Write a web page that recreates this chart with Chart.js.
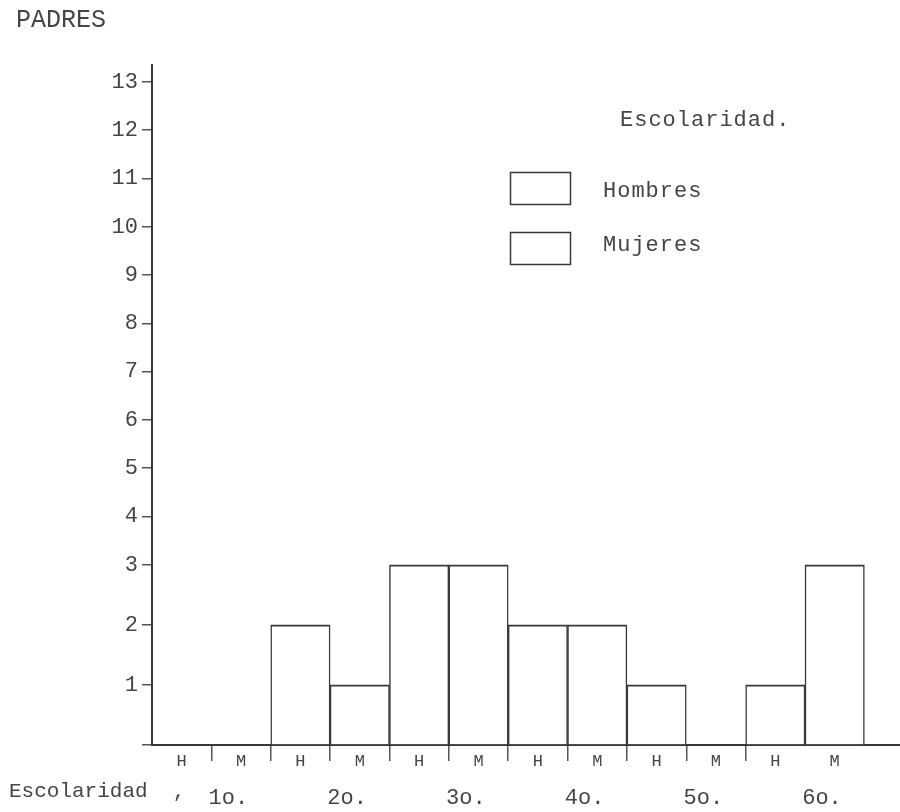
<!DOCTYPE html>
<html>
<head>
<meta charset="utf-8">
<script src="https://cdn.jsdelivr.net/npm/chart.js@4.4.1/dist/chart.umd.min.js"></script>
<style>
  html, body { margin: 0; padding: 0; background: #ffffff; }
  #wrap { width: 900px; height: 812px; position: relative; }
</style>
</head>
<body>
<div id="wrap"><canvas id="c"></canvas></div>
<script>
// ---- data ----
const grades = ['1o.', '2o.', '3o.', '4o.', '5o.', '6o.'];
const sexLabels = ['H', 'M'];
const hombres = [0, 2, 3, 2, 1, 1];
const mujeres = [0, 1, 3, 2, 0, 3];
const yTicks = [1, 2, 3, 4, 5, 6, 7, 8, 9, 10, 11, 12, 13];
const seriesNames = ['Hombres', 'Mujeres'];
const yTitle = 'PADRES';
const xTitle = 'Escolaridad  ,';
const legendTitle = 'Escolaridad.';

// ---- a linear scale whose lower part (0..break) is drawn with a larger unit, as in the hand-made original ----
class BrokenLinearScale extends Chart.LinearScale {
  _dec(v) {
    const b = this.options.breakValue, s = this.options.breakShare;
    if (v <= b) return (v - this.min) / (b - this.min) * s;
    return s + (v - b) / (this.max - b) * (1 - s);
  }
  getPixelForValue(value) {
    if (value === null || value === undefined || isNaN(value)) return NaN;
    return this.getPixelForDecimal(this._dec(value));
  }
  getValueForPixel(pixel) {
    const d = this.getDecimalForPixel(pixel);
    const b = this.options.breakValue, s = this.options.breakShare;
    if (d <= s) return this.min + d / s * (b - this.min);
    return b + (d - s) / (1 - s) * (this.max - b);
  }
}
BrokenLinearScale.id = 'brokenLinear';
BrokenLinearScale.defaults = Chart.LinearScale.defaults;
Chart.register(BrokenLinearScale);

const FONT = "'Liberation Mono', 'Courier New', monospace";
const INK = '#454545';
const LINE = '#383838';

const slotLabels = grades.flatMap(() => sexLabels);

const extraText = {
  id: 'extraText',
  afterDraw(chart) {
    const ctx = chart.ctx;
    ctx.save();
    ctx.fillStyle = INK;
    ctx.strokeStyle = LINE;
    ctx.textBaseline = 'middle';
    ctx.textAlign = 'left';
    // legend
    ctx.font = '22px ' + FONT;
    try { ctx.letterSpacing = '1px'; } catch (e) {}
    ctx.fillText(legendTitle, 620, 120);
    ctx.lineWidth = 1.5;
    const boxes = [172, 232];
    chart.data.datasets.forEach((ds, i) => {
      ctx.strokeRect(510.5, boxes[i] + 0.5, 60, 32);
      ctx.fillText(ds.label, 603, boxes[i] + (i === 0 ? 19 : 13));
    });
    // x-axis title at the left
    try { ctx.letterSpacing = '0px'; } catch (e) {}
    ctx.font = '21px ' + FONT;
    ctx.fillText(xTitle, 9, 791);
    ctx.restore();
  }
};

const barStyle = {
  xAxisID: 'x', yAxisID: 'y',
  grouped: false,
  backgroundColor: '#ffffff',
  borderColor: LINE,
  borderWidth: { top: 2, left: 1.5, right: 1.5, bottom: 0 },
  borderSkipped: 'start',
  barPercentage: 1, categoryPercentage: 1
};

new Chart(document.getElementById('c'), {
  type: 'bar',
  data: {
    datasets: [
      Object.assign({ label: seriesNames[0], data: hombres.map((v, i) => ({ x: 2 * i + 0.5, y: v })) }, barStyle),
      Object.assign({ label: seriesNames[1], data: mujeres.map((v, i) => ({ x: 2 * i + 1.5, y: v })) }, barStyle)
    ]
  },
  options: {
    responsive: true,
    maintainAspectRatio: false,
    animation: false,
    layout: { padding: { left: 16, right: 0, top: 0, bottom: 0 } },
    plugins: {
      legend: { display: false },
      tooltip: { enabled: false },
      title: {
        display: true,
        text: yTitle,
        align: 'start',
        color: INK,
        font: { family: FONT, size: 25, weight: 'normal' },
        padding: { top: 5, bottom: 30 }
      }
    },
    scales: {
      x: {
        type: 'linear', axis: 'x', position: 'bottom', offset: false,
        min: 0, max: 12.6, bounds: 'data',
        ticks: { stepSize: 1, includeBounds: false, display: false },
        grid: {
          offset: false,
          drawOnChartArea: false, drawTicks: true, tickLength: 16, lineWidth: 1.5,
          color: (c) => (c.tick && c.tick.value > 0 && c.tick.value < 2 * grades.length - 1) ? '#555' : 'rgba(0,0,0,0)'
        },
        border: { display: true, color: LINE, width: 2 },
        afterFit: (s) => { s.height = 0; }
      },
      x2: {
        type: 'linear', axis: 'x', position: 'bottom', offset: false,
        min: 0, max: 12.6, bounds: 'data',
        afterBuildTicks: (s) => { s.ticks = slotLabels.map((_, i) => ({ value: i + 0.5 })); },
        ticks: {
          autoSkip: false, maxRotation: 0, padding: 6,
          callback: (v, i) => slotLabels[i],
          color: INK, font: { family: FONT, size: 17 }
        },
        grid: { display: false, drawTicks: false, offset: false },
        border: { display: false },
        afterFit: (s) => { s.height = 30; }
      },
      x3: {
        type: 'linear', axis: 'x', position: 'bottom', offset: false,
        min: 0, max: 12.6, bounds: 'data',
        afterBuildTicks: (s) => { s.ticks = grades.map((_, i) => ({ value: 2 * i + 1 })); },
        ticks: {
          autoSkip: false, maxRotation: 0, padding: 10, labelOffset: 17,
          callback: (v, i) => grades[i],
          color: INK, font: { family: FONT, size: 22 }
        },
        grid: { display: false, drawTicks: false, offset: false },
        border: { display: false },
        afterFit: (s) => { s.height = 37; }
      },
      y: {
        type: 'brokenLinear', position: 'left',
        min: 0, max: 13.35,
        breakValue: 3, breakShare: 0.265,
        afterBuildTicks: (s) => { s.ticks = [{ value: 0 }].concat(yTicks.map(v => ({ value: v }))); },
        ticks: {
          autoSkip: false, padding: 4,
          callback: (v) => (v === 0 ? '' : String(v)),
          color: INK, font: { family: FONT, size: 22 }
        },
        grid: { drawOnChartArea: false, drawTicks: true, tickLength: 10, color: '#555', lineWidth: 1.5 },
        border: { display: true, color: LINE, width: 2 },
        afterFit: (s) => { s.width = 136; }
      }
    }
  },
  plugins: [extraText]
});
</script>
</body>
</html>
